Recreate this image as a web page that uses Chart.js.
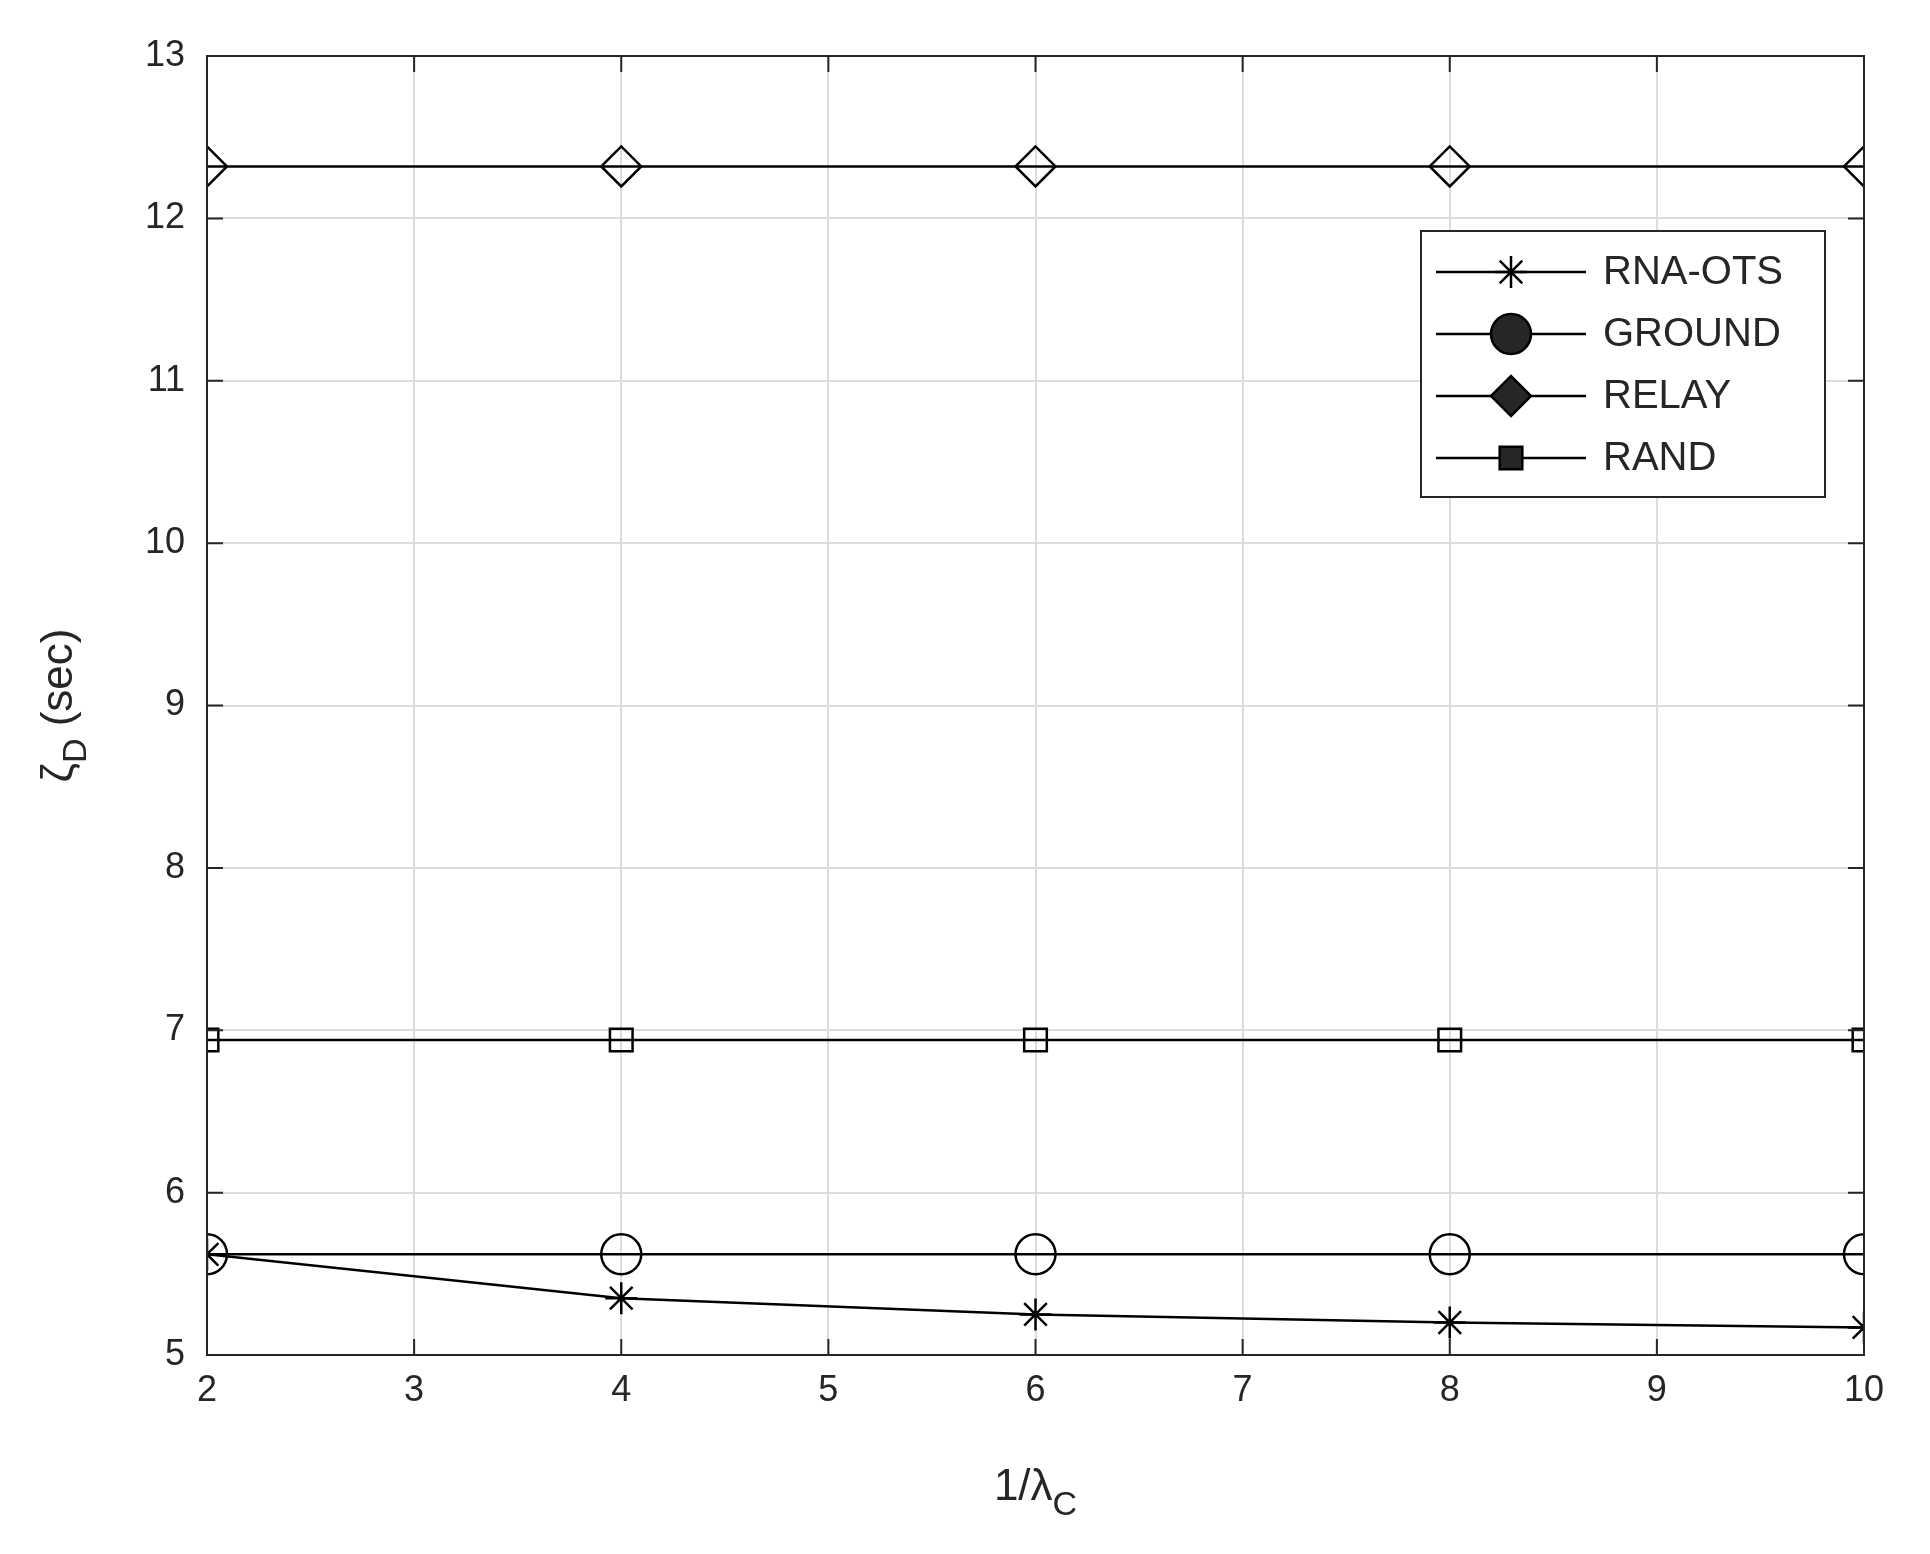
<!DOCTYPE html>
<html>
<head>
<meta charset="utf-8">
<script src="https://cdn.jsdelivr.net/npm/chart.js@4.4.0/dist/chart.umd.min.js"></script>
<style>
  html, body { margin: 0; padding: 0; background: #fff; }
  #wrap { width: 1930px; height: 1554px; }
</style>
</head>
<body>
<div id="wrap"><canvas id="chart" width="1930" height="1554"></canvas></div>
<script>
// data
const xValues = [2, 4, 6, 8, 10];
const rnaOts = [5.62, 5.35, 5.25, 5.20, 5.17];
const ground = [5.62, 5.62, 5.62, 5.62, 5.62];
const relay = [12.32, 12.32, 12.32, 12.32, 12.32];
const rand = [6.94, 6.94, 6.94, 6.94, 6.94];
const seriesNames = ['RNA-OTS', 'GROUND', 'RELAY', 'RAND'];
const markerStyles = ['star', 'circle', 'rectRot', 'rect'];
const markerSizes = [16, 20, 20, 16];

const FONT = '"Liberation Sans", Arial, sans-serif';
const TXT = '#262626';

function makeSet(i, vals) {
    return {
        label: seriesNames[i],
        data: xValues.map((x, k) => ({ x: x, y: vals[k] })),
        borderColor: '#000',
        backgroundColor: 'rgba(0,0,0,0)',
        borderWidth: 2.5,
        pointStyle: markerStyles[i],
        pointRadius: markerSizes[i],
        pointBorderWidth: 2.5,
        pointBorderColor: '#000',
        pointBackgroundColor: 'rgba(0,0,0,0)',
        tension: 0
    };
}

// box, inward ticks, axis titles and legend
const decor = {
    id: 'decor',
    afterDraw(chart) {
        const c = chart.ctx, a = chart.chartArea;
        const xs = chart.scales.x, ys = chart.scales.y;
        c.save();
        c.strokeStyle = '#262626';
        c.lineWidth = 2;
        c.strokeRect(a.left, a.top, a.right - a.left, a.bottom - a.top);
        const t = 16;
        xs.ticks.forEach(tk => {
            const p = xs.getPixelForValue(tk.value);
            c.beginPath();
            c.moveTo(p, a.bottom); c.lineTo(p, a.bottom - t);
            c.moveTo(p, a.top); c.lineTo(p, a.top + t);
            c.stroke();
        });
        ys.ticks.forEach(tk => {
            const p = ys.getPixelForValue(tk.value);
            c.beginPath();
            c.moveTo(a.left, p); c.lineTo(a.left + t, p);
            c.moveTo(a.right, p); c.lineTo(a.right - t, p);
            c.stroke();
        });

        // x title 1/λC
        c.fillStyle = TXT;
        c.textBaseline = 'alphabetic';
        c.font = '44px ' + FONT;
        const main = '1/λ';
        const w1 = c.measureText(main).width;
        c.font = '34px ' + FONT;
        const w2 = c.measureText('C').width;
        const x0 = (a.left + a.right) / 2 - (w1 + w2) / 2;
        c.font = '44px ' + FONT;
        c.fillText(main, x0, 1500);
        c.font = '34px ' + FONT;
        c.fillText('C', x0 + w1, 1515);

        // y title ζD (sec)
        c.translate(72, (a.top + a.bottom) / 2);
        c.rotate(-Math.PI / 2);
        c.font = '44px ' + FONT;
        const wa = c.measureText('ζ').width;
        const wc = c.measureText(' (sec)').width;
        c.font = '34px ' + FONT;
        const wb = c.measureText('D').width;
        let yx = -(wa + wb + wc) / 2;
        c.font = '44px ' + FONT;
        c.fillText('ζ', yx, 0);
        c.font = '34px ' + FONT;
        c.fillText('D', yx + wa, 14);
        c.font = '44px ' + FONT;
        c.fillText(' (sec)', yx + wa + wb, 0);
        c.setTransform(1, 0, 0, 1, 0, 0);

        // legend
        const lx = 1421, ly = 231, lw = 404, lh = 266;
        c.fillStyle = '#fff';
        c.fillRect(lx, ly, lw, lh);
        c.strokeStyle = '#262626';
        c.lineWidth = 2;
        c.strokeRect(lx, ly, lw, lh);
        chart.data.datasets.forEach((ds, i) => {
            const cy = ly + 41 + i * 62;
            c.strokeStyle = '#000';
            c.lineWidth = 2.5;
            c.beginPath();
            c.moveTo(lx + 15, cy); c.lineTo(lx + 165, cy);
            c.stroke();
            Chart.helpers.drawPoint(c, {
                pointStyle: ds.pointStyle,
                radius: ds.pointRadius,
                borderWidth: 2.5
            }, lx + 90, cy);
            c.fillStyle = TXT;
            c.font = '40px ' + FONT;
            c.textBaseline = 'middle';
            c.fillText(ds.label, lx + 182, cy + 1);
        });
        c.restore();
    }
};

new Chart(document.getElementById('chart'), {
    type: 'line',
    data: {
        datasets: [
            makeSet(0, rnaOts),
            makeSet(1, ground),
            makeSet(2, relay),
            makeSet(3, rand)
        ]
    },
    options: {
        responsive: false,
        animation: false,
        layout: { padding: { top: 56, right: 66, left: 0, bottom: 0 } },
        plugins: { legend: { display: false }, tooltip: { enabled: false } },
        scales: {
            x: {
                type: 'linear', min: 2, max: 10,
                ticks: { stepSize: 1, color: TXT, font: { family: FONT, size: 36 }, padding: 14, maxRotation: 0 },
                grid: { color: '#dcdcdc', lineWidth: 2, drawTicks: false },
                border: { display: false },
                afterFit: s => { s.height = 1554 - 1355 - 0; }
            },
            y: {
                min: 5, max: 13,
                ticks: { stepSize: 1, color: TXT, font: { family: FONT, size: 36 }, padding: 22 },
                grid: { color: '#dcdcdc', lineWidth: 2, drawTicks: false },
                border: { display: false },
                afterFit: s => { s.width = 207; }
            }
        }
    },
    plugins: [decor]
});
</script>
</body>
</html>
